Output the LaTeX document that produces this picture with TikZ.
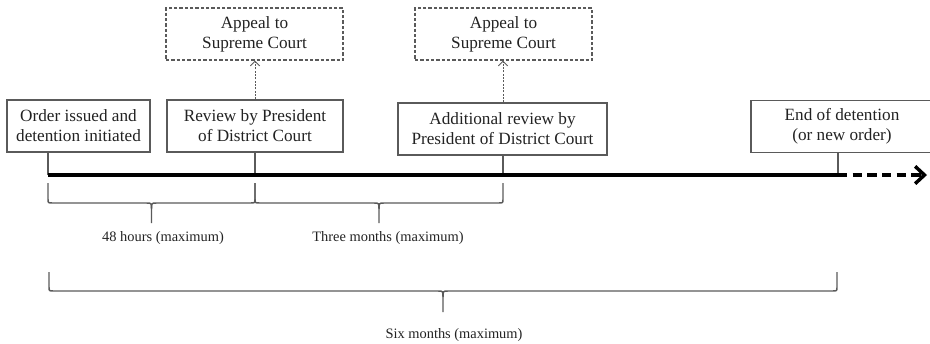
\documentclass[tikz,border=0pt]{standalone}
\usepackage{fontspec}
\setmainfont{Liberation Serif}
\usetikzlibrary{arrows.meta}
\definecolor{boxline}{HTML}{5A5A5A}
\definecolor{txt}{HTML}{222222}
\tikzset{
  evbox/.style={draw=boxline, line width=0.8pt, rectangle, align=center, inner sep=0pt,
    font=\fontsize{12.9}{15}\selectfont, text=txt, minimum height=52*0.75pt},
  appealbox/.style={evbox, dashed, dash pattern=on 2.5pt off 1.5pt},
  tick/.style={draw=boxline, line width=0.8pt},
  appealarrow/.style={draw=boxline, line width=0.7pt, dash pattern=on 1.5pt off 1pt,
    -{Straight Barb[length=3.5pt,width=7pt]}},
  timeline/.style={line width=3.2pt, black},
  bracestyle/.style={draw=boxline, line width=1.1pt},
  bracelabel/.style={font=\fontsize{10.8}{12}\selectfont, text=txt, inner sep=0pt}
}
% brace: #1 xL, #2 xR, #3 yTop, #4 yMid, #5 yTip
\newcommand{\mybrace}[5]{%
  \pgfmathsetmacro{\xm}{(#1+#2)/2}%
  \draw[bracestyle] (#1,#3) -- (#1,#4-4) .. controls (#1,#4) .. (#1+5,#4)
     -- (\xm-5,#4) .. controls (\xm,#4) .. (\xm,#4+6) -- (\xm,#5);
  \draw[bracestyle] (#2,#3) -- (#2,#4-4) .. controls (#2,#4) .. (#2-5,#4)
     -- (\xm+5,#4) .. controls (\xm,#4) .. (\xm,#4+6);
}
\begin{document}
\begin{tikzpicture}[x=0.75pt, y=-0.75pt]
\useasboundingbox (0,0) rectangle (930,343);

% timeline coordinates
\coordinate (t1) at (48,175);
\coordinate (t2) at (255,175);
\coordinate (t3) at (503,175);
\coordinate (t4) at (838,175);
\coordinate (tend) at (927,175);

% boxes
\node[evbox, minimum width=143*0.75pt] (b1) at (78.5,126) {Order issued and\\detention initiated};
\node[evbox, minimum width=176*0.75pt] (b2) at (255,126) {Review by President\\of District Court};
\node[evbox, minimum width=209*0.75pt] (b3) at (502.5,129) {Additional review by\\President of District Court};
\node[evbox, minimum width=182*0.75pt] (b4) at (842,126.5) {End of detention\\(or new order)};
\node[appealbox, minimum width=177*0.75pt] (a1) at (254.5,34) {Appeal to\\Supreme Court};
\node[appealbox, minimum width=177*0.75pt] (a2) at (503.5,34) {Appeal to\\Supreme Court};

% appeal arrows
\draw[appealarrow] (b2.north) -- (a1.south -| b2.north);
\draw[appealarrow] (b3.north -| t3) -- (a2.south -| t3);

% ticks
\draw[tick] (b1.south -| t1) -- (t1);
\draw[tick] (b2.south -| t2) -- (t2);
\draw[tick] (b3.south -| t3) -- (t3);
\draw[tick] (b4.south -| t4) -- (t4);

% timeline
\draw[timeline] (t1) -- (t4);
\draw[timeline, dash pattern=on 7pt off 4pt, -{Straight Barb[length=7pt,width=13pt,line width=2.6pt]}] (t4) -- (tend);

% braces
\mybrace{48}{255}{183}{203}{223}
\mybrace{255}{503}{183}{203}{223}
\mybrace{49}{837}{272}{291}{312}

\node[bracelabel] (l1) at (163,238) {48 hours (maximum)};
\node[bracelabel] (l2) at (388,238) {Three months (maximum)};
\node[bracelabel] (l3) at (454,335) {Six months (maximum)};
\end{tikzpicture}
\end{document}
